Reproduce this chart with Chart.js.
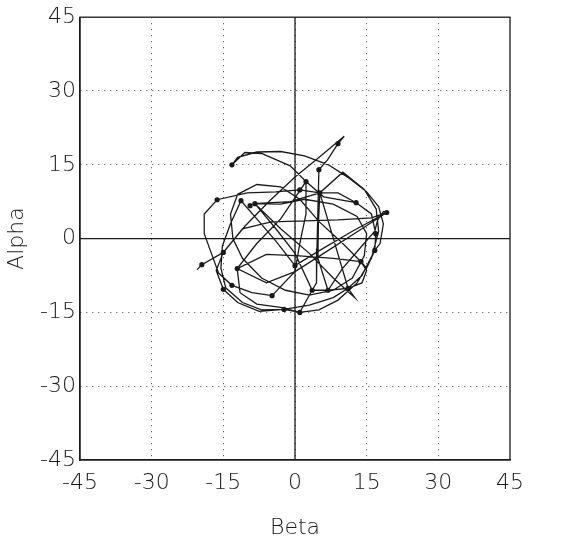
<!DOCTYPE html>
<html>
<head>
<meta charset="utf-8">
<script src="https://cdn.jsdelivr.net/npm/chart.js@4"></script>
<style>
  html, body { margin: 0; padding: 0; background: #fff; }
  #wrap { width: 561px; height: 545px; }
</style>
</head>
<body>
<div id="wrap"><canvas id="orbit"></canvas></div>
<script>
// trajectory (Beta, Alpha) in degrees
const pathBeta = [
  -20.5, -19.5, -15, -10.5, -5.5, 0, 5, 10.3, 9, 6.8, 5,
  4.8, 4.6, 4.5, 3.6, 1, -2.3, -7, -11, -14.5, -15.5, -15.2, -13.5, -11.3,
  -8, -4, 0, 5, 12, 19.2, 16, 9, 2, -5, -11, -15,
  -16.5, -15, -12, -7.5, -2.3, 3, 8, 11.1, 14, 16.7, 16.9, 16, 12.8, 9, 5.2, 1, -4, -10, -16.3,
  -19, -19, -17.5, -16, -13.2, -9, -4.8, 0, 1, 2.3, 2.3, -1, -7, -10.5, -13.2,
  -12, -8, -3, 2, 7, 11, 15, 17.5, 18.5, 17.8, 16.7, 15, 13.8, 8, 1, -6, -12.1,
  -11.5, -8, -3, 1, 5, 9, 13, 16, 17.5, 17, 14.5, 10, 5.2, -1, -8.4,
  -4, 0, 3.6, 6.9, 11.1, 14, 15, 13.8,
  10, 5, 1, -3, -8, -12, -13.5, -13, -11, -7, -2, 3, 8, 12, 14.5, 15, 13, 8, 2, -3, -8.4,
  -3, 3, 8, 12.5, 11.1,
  5.2, 4.9, 4.8, 6.9, 10, 14, 16.7, 17.3, 18.5, 19.2,
  14, 6, 0, -6, -12.1, -8, -3, 2.3, 6, 12.8
];
const pathAlpha = [
  -6.3, -5.3, -2.8, 2.5, 7.5, 12.5, 16.5, 20.8, 19.3, 16, 14,
  6, -2, -9, -10.5, -15, -14.4, -14.5, -13, -10, -6, -1.5, 3, 7.7,
  4, -0.5, -5.5, -2.5, 1.5, 5.3, 4.2, 3.8, 3.6, 3.4, 2, -2.8,
  -6.5, -10.3, -13, -14.8, -14.4, -13.5, -12, -10.1, -7.5, -2.4, 1, 5, 7.3, 9.3, 9.3, 9.9, 9.5, 9.3, 7.9,
  5, 1, -3, -7, -9.5, -11, -11.6, -6.7, -1, 5, 11.6, 14.8, 17.3, 17.5, 15,
  16.5, 17.6, 17.7, 16.8, 15, 12.5, 9.5, 6.5, 3, -1, -2.4, -6, -4.7, -4, -3.5, -3.2, -6.1,
  -11, -13.3, -14, -15, -14.5, -12.5, -9, -4, 1.5, 6, 10, 13.5, 9.3, 7.5, 7.1,
  2, -3, -10.5, -10.5, -10.1, -9, -6.5, -4.7,
  -1, 3.5, 8, 10.5, 11, 9, 5, 0, -4, -8, -10.5, -11.5, -10.5, -8, -3.5, 1, 4.5, 7, 8, 7, 7.1,
  2, -3, -8, -12, -10.1,
  9.3, 3, -4, -10.5, -6, -1.5, 1.5, 3.8, 5.5, 5.3,
  2, -3, -6.7, -9, -6.1, -1, 4, 11.6, 8.5, 7.3
];

// sample markers seen on the trajectory
const markBeta = [
  -19.5, -15, -13.2, -16.3, 9, 5, 2.3, 1, 5.2, 12.8, 19.2, 16.9, 16.7, 13.8,
  11.1, 6.9, 3.6, 1, -2.3, -4.8, 0, -12.1, -15, -13.2, -11.3, -9.4, -8.4
];
const markAlpha = [
  -5.3, -2.8, 15, 7.9, 19.3, 14, 11.6, 9.9, 9.3, 7.3, 5.3, 1, -2.4, -4.7,
  -10.1, -10.5, -10.5, -15, -14.4, -11.6, -5.5, -6.1, -10.3, -9.5, 7.7, 6.7, 7.1
];

const axisTicks = [-45, -30, -15, 0, 15, 30, 45];
const zeroSpan = [-45, 45];

const toPoints = (xs, ys) => xs.map((x, i) => ({ x: x, y: ys[i] }));

const tickFont = { family: 'DejaVu Sans', size: 22, weight: '300' };
const ink = '#1a1a1a';

new Chart(document.getElementById('orbit').getContext('2d'), {
  type: 'scatter',
  data: {
    datasets: [
      // zero axes drawn as solid lines
      {
        data: zeroSpan.map(v => ({ x: v, y: 0 })),
        showLine: true, borderColor: ink, borderWidth: 1.3, pointRadius: 0
      },
      {
        data: zeroSpan.map(v => ({ x: 0, y: v })),
        showLine: true, borderColor: ink, borderWidth: 1.3, pointRadius: 0
      },
      {
        data: toPoints(pathBeta, pathAlpha),
        showLine: true, borderColor: ink, borderWidth: 1.3,
        pointRadius: 0, tension: 0
      },
      {
        data: toPoints(markBeta, markAlpha),
        showLine: false, pointRadius: 2.6, pointBackgroundColor: ink,
        pointBorderColor: ink, pointBorderWidth: 0
      }
    ]
  },
  options: {
    responsive: true,
    maintainAspectRatio: false,
    animation: false,
    layout: { padding: { top: 16, right: 51, left: 0, bottom: 0 } },
    plugins: { legend: { display: false }, tooltip: { enabled: false } },
    scales: {
      x: {
        min: -45, max: 45,
        afterBuildTicks: s => { s.ticks = axisTicks.map(v => ({ value: v })); },
        afterFit: s => { s.height = 85; },
        ticks: { color: ink, font: tickFont, padding: 10 },
        grid: {
          color: c => (Math.abs(c.tick.value) === 45 ? 'rgba(0,0,0,0)' : '#444'),
          lineWidth: 1, drawTicks: false
        },
        border: { color: ink, width: 1.3, dash: [1, 5] },
        title: { display: true, text: 'Beta', color: ink, font: tickFont, padding: { top: 0 } }
      },
      y: {
        min: -45, max: 45,
        afterBuildTicks: s => { s.ticks = axisTicks.map(v => ({ value: v })); },
        afterFit: s => { s.width = 80; },
        ticks: { color: ink, font: tickFont, padding: 4 },
        grid: {
          color: c => (Math.abs(c.tick.value) === 45 ? 'rgba(0,0,0,0)' : '#444'),
          lineWidth: 1, drawTicks: false
        },
        border: { color: ink, width: 1.3, dash: [1, 5] },
        title: { display: true, text: 'Alpha', color: ink, font: tickFont, padding: { bottom: 0 } }
      }
    }
  },
  plugins: [{
    // solid frame around the plot area
    id: 'frame',
    afterDraw(chart) {
      const a = chart.chartArea, g = chart.ctx;
      g.save();
      g.strokeStyle = ink; g.lineWidth = 1.3;
      g.strokeRect(a.left, a.top, a.right - a.left, a.bottom - a.top);
      g.restore();
    }
  }]
});
</script>
</body>
</html>
